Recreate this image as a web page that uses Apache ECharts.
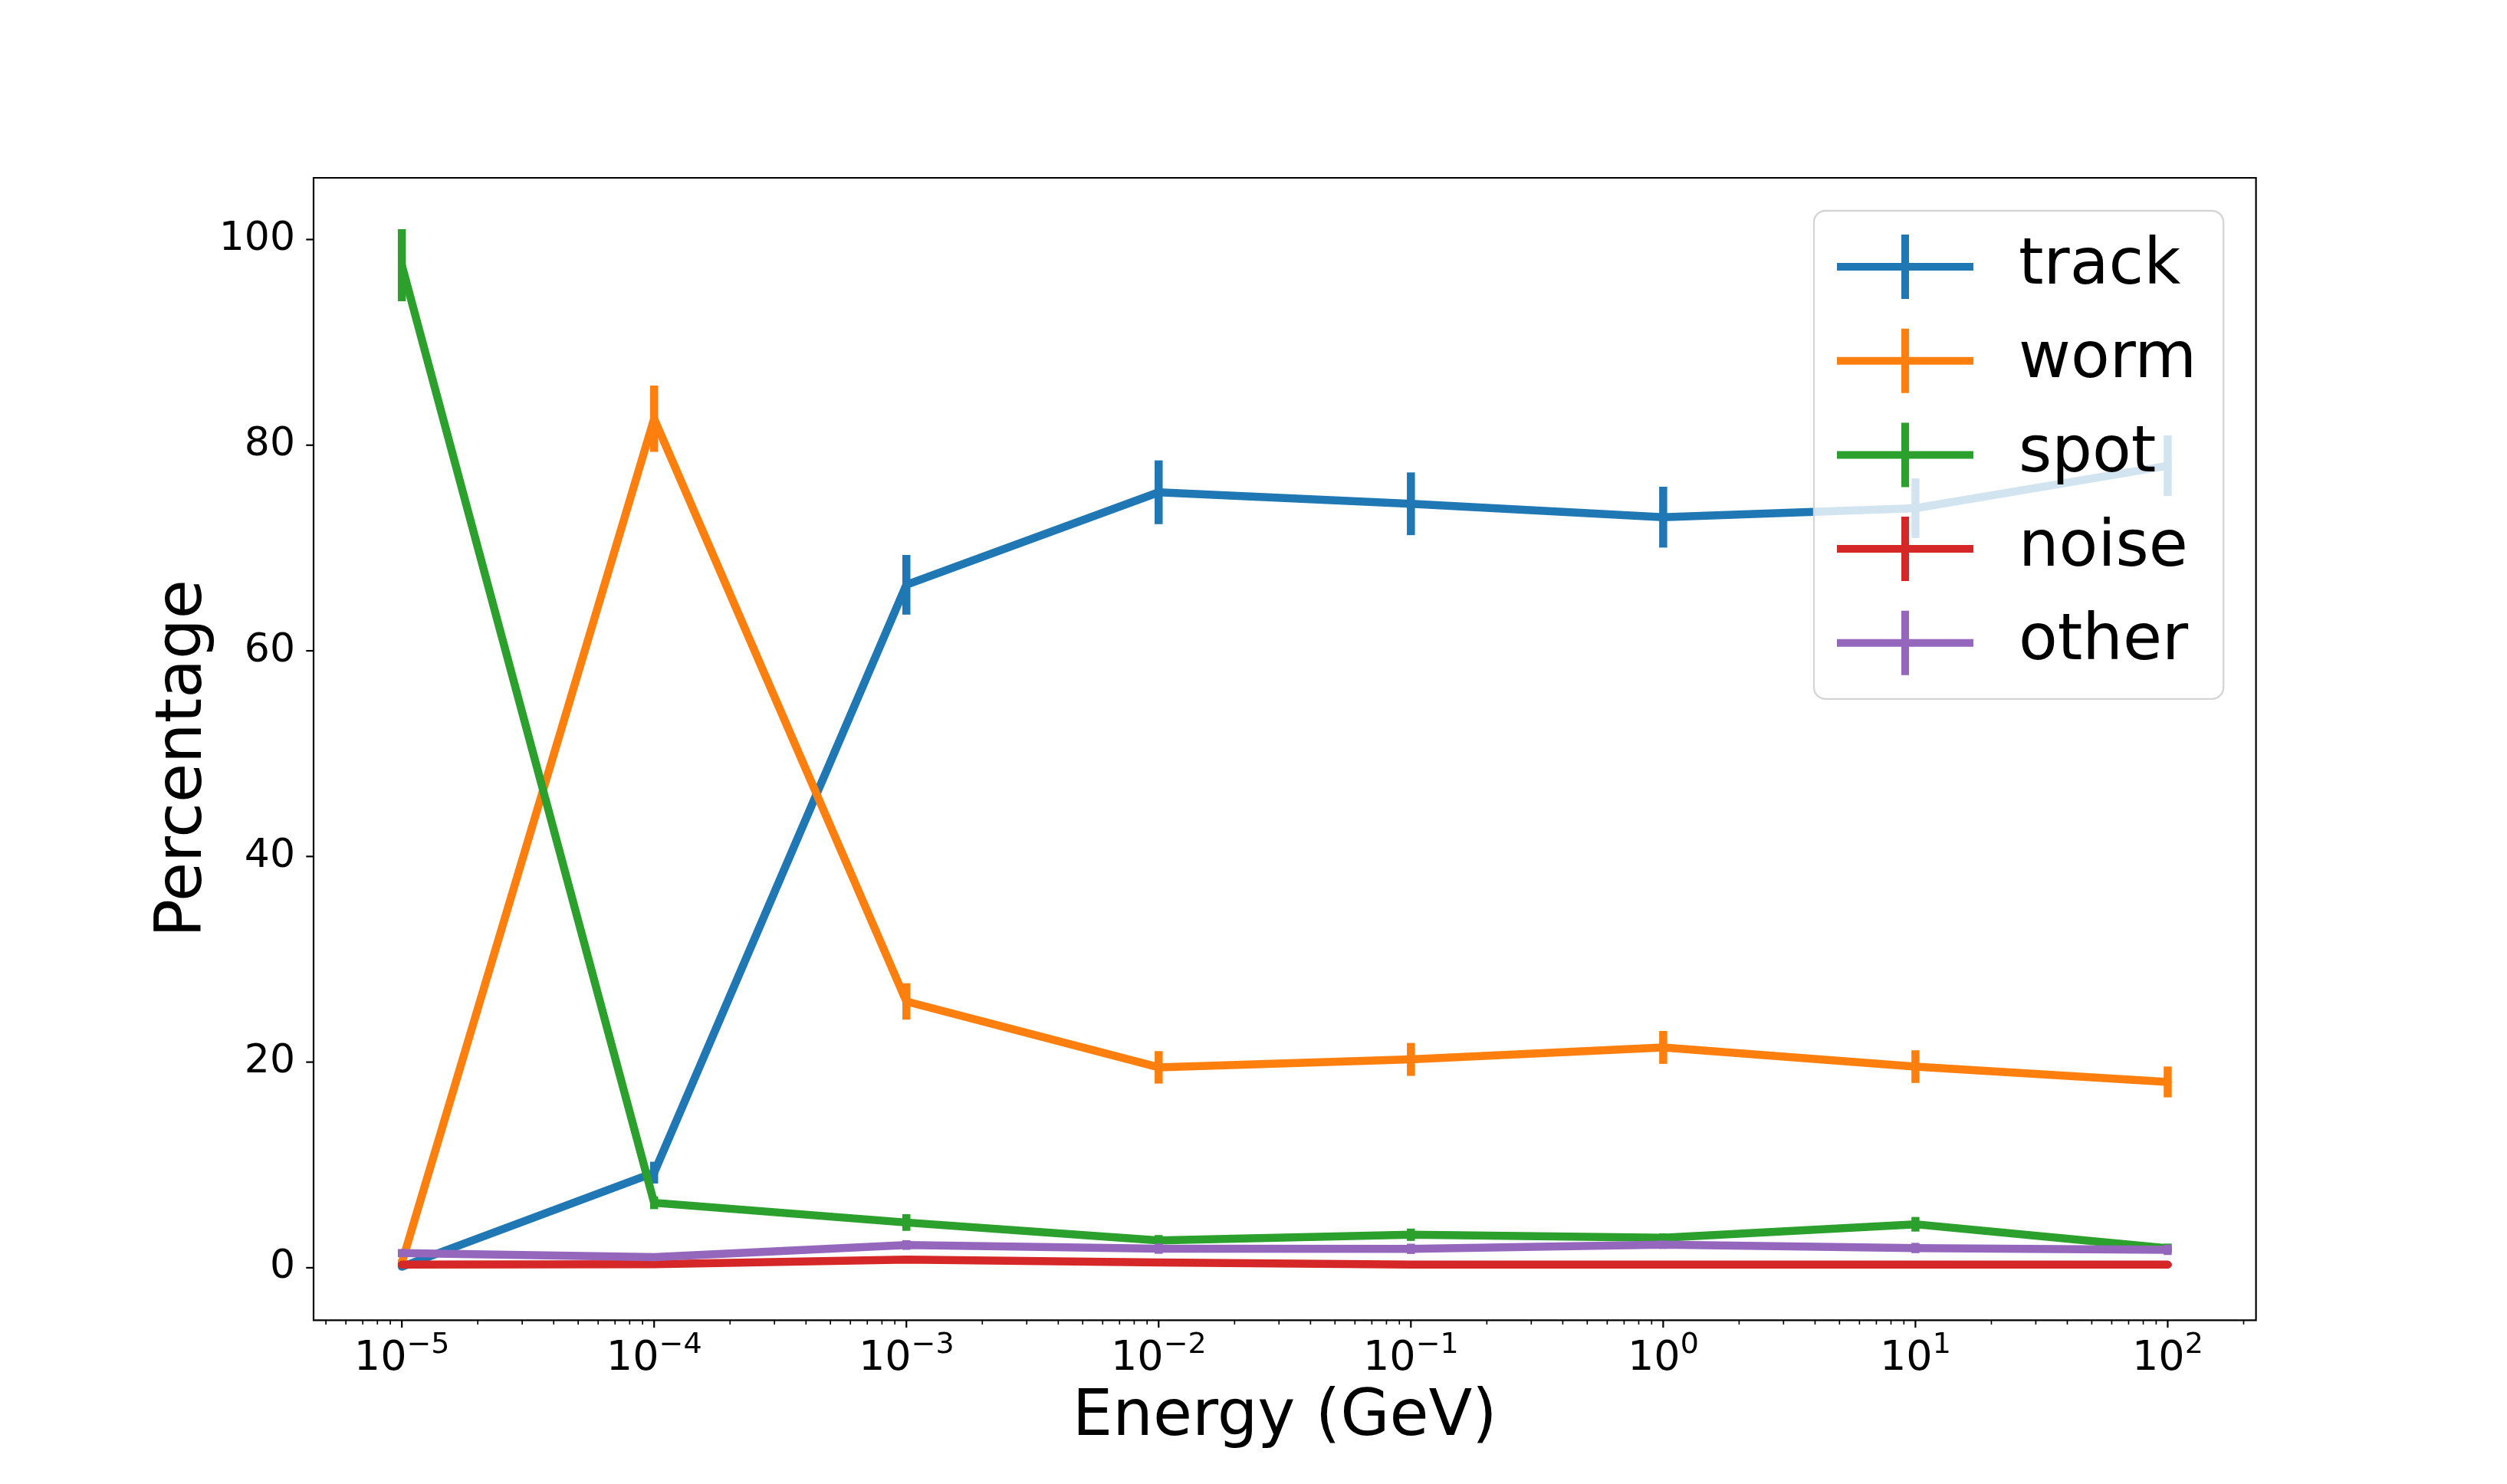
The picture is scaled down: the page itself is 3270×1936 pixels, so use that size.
<!DOCTYPE html>
<html>
<head>
<meta charset="utf-8">
<script src="https://cdn.jsdelivr.net/npm/echarts@6/dist/echarts.min.js"></script>
<style>
html,body{margin:0;padding:0;background:#fff;}
#chart{width:3270px;height:1936px;}
</style>
</head>
<body>
<div id="chart"></div>
<script>
// ---- data ----
const energies = [1e-5, 1e-4, 1e-3, 1e-2, 1e-1, 1, 10, 100];
const seriesNames = ['track', 'worm', 'spot', 'noise', 'other'];
const colors = ['#1f77b4', '#ff7f0e', '#2ca02c', '#d62728', '#9467bd'];
const track    = [0.1, 9.25, 66.42, 75.42, 74.3, 73.0, 73.87, 78.0];
const trackErr = [0.1, 1.06, 2.9, 3.1, 3.05, 2.96, 2.9, 2.95];
const worm     = [0.5, 82.57, 25.9, 19.49, 20.26, 21.43, 19.56, 18.07];
const wormErr  = [0.3, 3.23, 1.77, 1.58, 1.6, 1.6, 1.59, 1.5];
const spot     = [97.5, 6.32, 4.40, 2.66, 3.21, 2.91, 4.23, 1.9];
const spotErr  = [3.5, 0.62, 0.81, 0.52, 0.6, 0.43, 0.71, 0.45];
const noise    = [0.30, 0.35, 0.80, 0.52, 0.30, 0.30, 0.30, 0.30];
const noiseErr = [0.2, 0.2, 0.3, 0.2, 0.15, 0.15, 0.15, 0.15];
const other    = [1.42, 1.04, 2.21, 1.86, 1.84, 2.24, 1.92, 1.74];
const otherErr = [0.4, 0.35, 0.47, 0.5, 0.5, 0.4, 0.5, 0.5];
const yTickValues = [0, 20, 40, 60, 80, 100];
const yTickLabels = ['0', '20', '40', '60', '80', '100'];
const xTickExponents = [-5, -4, -3, -2, -1, 0, 1, 2];
const xLogMin = -5.35, xLogMax = 2.35;
const yMin = -5.1, yMax = 106.0;

const values = [track, worm, spot, noise, other];
const errors = [trackErr, wormErr, spotErr, noiseErr, otherErr];

const FONT = 'DejaVu Sans';
const LW = 10.5;
const xMinVal = Math.pow(10, xLogMin), xMaxVal = Math.pow(10, xLogMax);

// minor tick positions of the log axis (2..9 x 10^n inside the range)
const xMinorTicks = [];
for (let n = -6; n <= 2; n++) {
  for (let k = 2; k <= 9; k++) {
    const v = k * Math.pow(10, n);
    if (v > xMinVal && v < xMaxVal) xMinorTicks.push(v);
  }
}
const xMajorTicks = xTickExponents.map(e => Math.pow(10, e));

function errRender(color) {
  return function (params, api) {
    const x = api.value(0), y = api.value(1), e = api.value(2);
    const a = api.coord([x, y - e]);
    const b = api.coord([x, y + e]);
    return {
      type: 'line',
      shape: {x1: a[0], y1: a[1], x2: b[0], y2: b[1]},
      style: {stroke: color, lineWidth: LW, lineCap: 'butt'}
    };
  };
}

const series = [];
seriesNames.forEach((name, i) => {
  series.push({
    name: name,
    type: 'custom',
    renderItem: errRender(colors[i]),
    data: energies.map((x, j) => [x, values[i][j], errors[i][j]]),
    encode: {x: 0, y: 1},
    itemStyle: {color: colors[i]},
    z: 10 + i * 2,
    silent: true
  });
  series.push({
    name: name,
    type: 'line',
    data: energies.map((x, j) => [x, values[i][j]]),
    showSymbol: false,
    symbol: 'none',
    color: colors[i],
    itemStyle: {color: colors[i]},
    lineStyle: {color: colors[i], width: LW, cap: 'round', join: 'round'},
    z: 11 + i * 2,
    silent: true
  });
});

// tick marks (matplotlib style, outward)
series.push({
  name: 'xticks',
  type: 'custom',
  silent: true,
  z: 60,
  data: xMajorTicks.map(v => [v, yMin, 1]).concat(xMinorTicks.map(v => [v, yMin, 0])),
  encode: {x: 0, y: 1},
  renderItem: function (params, api) {
    const p = api.coord([api.value(0), api.value(1)]);
    const major = api.value(2) === 1;
    const len = major ? 9.7 : 5.6;
    return {
      type: 'line',
      shape: {x1: p[0], y1: p[1], x2: p[0], y2: p[1] + len},
      style: {stroke: '#000', lineWidth: major ? 2.2 : 1.67}
    };
  }
});
// y ticks + their labels
series.push({
  name: 'yticks',
  type: 'custom',
  silent: true,
  z: 60,
  data: yTickValues.map((v, i) => [xMinVal, v, i]),
  encode: {x: 0, y: 1},
  renderItem: function (params, api) {
    const p = api.coord([api.value(0), api.value(1)]);
    const idx = api.value(2);
    return {
      type: 'group',
      children: [
        {
          type: 'line',
          shape: {x1: p[0], y1: p[1], x2: p[0] - 9.7, y2: p[1]},
          style: {stroke: '#000', lineWidth: 2.2}
        },
        {
          type: 'text',
          x: p[0] - 24, y: p[1],
          style: {
            text: yTickLabels[idx],
            fontFamily: FONT, fontSize: 52, fill: '#000',
            align: 'right', verticalAlign: 'middle'
          }
        }
      ]
    };
  }
});

const crossIcon = 'path://M0,37H178V47H0Z M84,0H94V84H84Z';

const option = {
  animation: false,
  backgroundColor: '#ffffff',
  grid: {
    left: 409, top: 232, width: 2533.6, height: 1490.3,
    show: true, borderColor: '#000', borderWidth: 2.2,
    containLabel: false
  },
  legend: {
    data: seriesNames.map(n => ({name: n, icon: crossIcon})),
    orient: 'vertical',
    left: 2366, top: 275,
    padding: [31, 35, 31, 30],
    itemWidth: 178, itemHeight: 84, itemGap: 38.7,
    itemStyle: {borderWidth: 0},
    backgroundColor: 'rgba(255,255,255,0.8)',
    borderColor: '#d5d5d5', borderWidth: 2.3, borderRadius: 15,
    selectedMode: false,
    z: 100,
    textStyle: {fontFamily: FONT, fontSize: 83, color: '#000', lineHeight: 84, padding: [0, 0, 0, 54]}
  },
  xAxis: {
    type: 'log',
    logBase: 10,
    min: xMinVal, max: xMaxVal,
    name: 'Energy (GeV)',
    nameLocation: 'middle',
    nameGap: 87,
    nameTextStyle: {fontFamily: FONT, fontSize: 83, color: '#000'},
    axisLine: {show: false},
    axisTick: {show: false},
    splitLine: {show: false},
    minorTick: {show: false},
    minorSplitLine: {show: false},
    axisLabel: {
      showMinLabel: false, showMaxLabel: false,
      margin: 14,
      color: '#000',
      formatter: function (v) {
        const l = Math.log10(v);
        const e = Math.round(l);
        if (Math.abs(l - e) > 1e-6 || xTickExponents.indexOf(e) < 0) return '';
        return '{b|10}{s|' + (e < 0 ? '\u2212' : '') + Math.abs(e) + '}';
      },
      rich: {
        b: {fontFamily: FONT, fontSize: 54, lineHeight: 74, color: '#000'},
        s: {fontFamily: FONT, fontSize: 38, lineHeight: 38, verticalAlign: 'top', color: '#000'}
      }
    }
  },
  yAxis: {
    type: 'value',
    min: yMin, max: yMax,
    name: 'Percentage',
    nameLocation: 'middle',
    nameGap: 127,
    nameTextStyle: {fontFamily: FONT, fontSize: 83, color: '#000', padding: [0, 25, 0, 0]},
    axisLine: {show: false},
    axisTick: {show: false},
    splitLine: {show: false},
    axisLabel: {show: false}
  },
  series: series
};

const chart = echarts.init(document.getElementById('chart'), null, {renderer: 'canvas'});
chart.setOption(option);
</script>
</body>
</html>
